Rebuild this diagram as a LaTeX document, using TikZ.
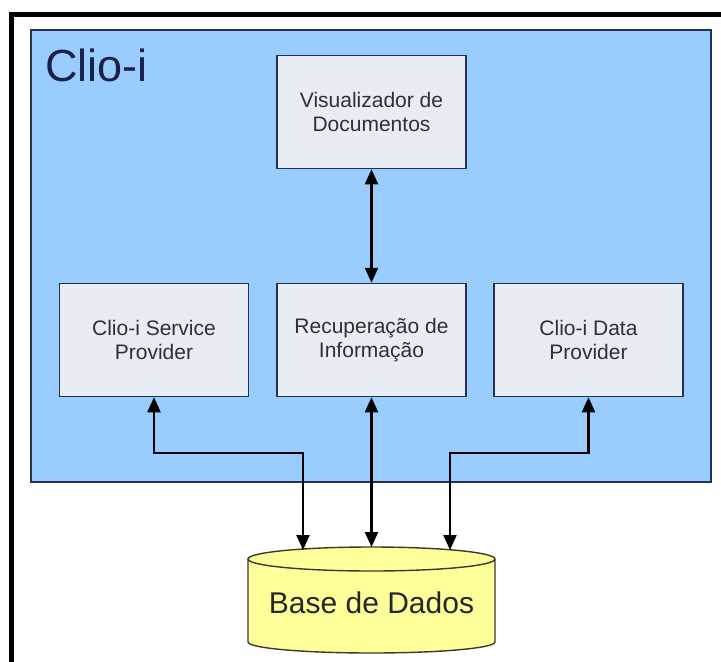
\documentclass[tikz,border=0pt]{standalone}
\usepackage{fontspec}
\setmainfont{Liberation Sans}
\usetikzlibrary{arrows.meta}
\definecolor{panelblue}{HTML}{99CCFF}
\definecolor{navyline}{HTML}{25324F}
\definecolor{boxfill}{HTML}{E8ECF5}
\definecolor{boxtext}{HTML}{303030}
\definecolor{titletext}{HTML}{1A2048}
\definecolor{dbfill}{HTML}{FFFF99}
\definecolor{dbline}{HTML}{3A3A2A}
\tikzset{
  module/.style={draw=navyline, line width=1.5pt, fill=boxfill, text=boxtext,
    minimum width=189pt, minimum height=113pt, align=center,
    font=\fontsize{21}{24.5}\selectfont},
  link/.style={line width=2.2pt, draw=black,
    {Triangle[length=15pt,width=13pt]}-{Triangle[length=15pt,width=13pt]}}
}
\begin{document}
\begin{tikzpicture}[x=1pt,y=-1pt]
  \useasboundingbox (0,0) rectangle (721,662);
  \clip (0,0) rectangle (721,662);
  \fill[white] (0,0) rectangle (721,662);
  % outer frame
  \draw[line width=5pt] (11,14) rectangle (800,720);
  % system panel
  \draw[navyline, line width=1.4pt, fill=panelblue] (31,30) rectangle (711,482);
  \node[anchor=base west, text=titletext, font=\fontsize{45}{50}\selectfont, inner sep=0pt]
    (title) at (45,81) {Clio-i};

  % modules
  \node[module] (vis) at (371.5,112) {Visualizador de\\Documentos};
  \node[module] (svc) at (154,340) {Clio-i Service\\Provider};
  \node[module] (rec) at (371.5,340) {Recuperação de\\Informação};
  \node[module] (dat) at (588.5,340) {Clio-i Data\\Provider};

  % database cylinder
  \filldraw[draw=dbline, fill=dbfill, line width=1.4pt]
    (248,559) -- (248,642)
    arc[start angle=180, end angle=360, x radius=123.5pt, y radius=11pt]
    -- (495,559)
    arc[start angle=0, end angle=180, x radius=123.5pt, y radius=12pt] -- cycle;
  \draw[dbline, line width=1.4pt] (248,559)
    arc[start angle=180, end angle=360, x radius=123.5pt, y radius=12pt];
  \node[text=black!85, font=\fontsize{30}{34}\selectfont, anchor=base, inner sep=0pt]
    (db) at (371.5,613) {Base de Dados};
  \coordinate (dbL) at (303,550);
  \coordinate (dbM) at (371.5,547);
  \coordinate (dbR) at (450,550);

  % connectors
  \draw[link] (vis.south) -- (rec.north);
  \draw[link] (svc.south) -- ++(0,56) -| (dbL);
  \draw[link] (rec.south) -- (dbM);
  \draw[link] (dat.south) -- ++(0,56) -| (dbR);
\end{tikzpicture}
\end{document}
